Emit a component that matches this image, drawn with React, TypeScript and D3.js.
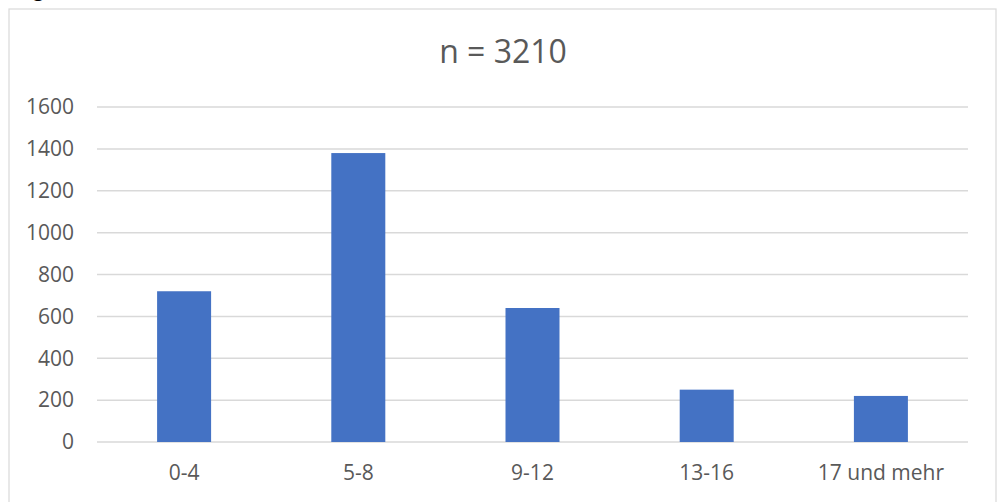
import React from "react";
import * as d3 from "d3";

const categories = ["0-4", "5-8", "9-12", "13-16", "17 und mehr"];
const values = [720, 1380, 640, 250, 220];
const yTicks = [0, 200, 400, 600, 800, 1000, 1200, 1400, 1600];
const title = "n = 3210";

export default function App() {
  const W = 997, H = 502;
  const left = 97, right = 968, top = 107, bottom = 442;
  const x = d3.scaleBand<string>().domain(categories).range([left, right]).paddingInner(0.69).paddingOuter(0.345);
  const y = d3.scaleLinear().domain([0, 1600]).range([bottom, top]);
  const font = "'Open Sans', sans-serif";
  return (
    <div style={{ position: "fixed", left: 0, top: 0 }}>
      <svg width={W} height={H} style={{ display: "block", background: "#fff" }}>
        <rect x={9} y={9} width={987} height={520} fill="#fff" stroke="#d9d9d9" strokeWidth={1.2} />
        <text x={33} y={-4} fontFamily={font} fontSize={20} fill="#000">g</text>
        <text x={503} y={63} textAnchor="middle" fontFamily={font} fontSize={32} fill="#595959">{title}</text>
        {yTicks.map((t) => (
          <g key={t}>
            <line x1={left} x2={right} y1={y(t)} y2={y(t)} stroke="#d9d9d9" strokeWidth={1.5} />
            <text x={74} y={y(t)} dy="0.35em" textAnchor="end" fontFamily={font} fontSize={21} fill="#595959">{t}</text>
          </g>
        ))}
        {categories.map((c, i) => (
          <rect key={c} x={x(c)} y={y(values[i])} width={x.bandwidth()} height={y(0) - y(values[i])} fill="#4472C4" />
        ))}
        {categories.map((c) => (
          <text key={c} x={(x(c) as number) + x.bandwidth() / 2} y={480} textAnchor="middle" fontFamily={font} fontSize={21} fill="#595959">{c}</text>
        ))}
      </svg>
    </div>
  );
}
